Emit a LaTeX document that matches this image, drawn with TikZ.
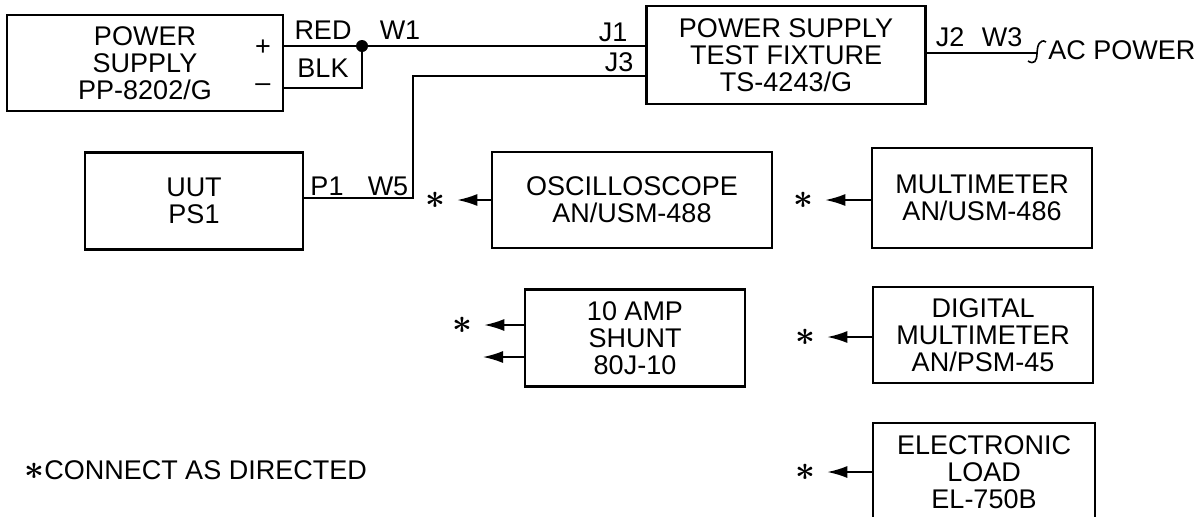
\documentclass[tikz,border=0pt]{standalone}
\usepackage{fontspec}
\setmainfont{Liberation Sans}
\usetikzlibrary{arrows.meta}

\newcommand{\bigast}{{\boldmath\fontsize{16}{16}\selectfont$\ast$}}

\begin{document}
\begin{tikzpicture}[x=0.5pt,y=-0.5pt,
  font=\fontsize{13.5}{13.5}\selectfont,
  box/.style={draw,line width=1.4pt,align=center,inner sep=0pt},
  wire/.style={line width=0.8pt},
  arr/.style={wire,-{Latex[length=10pt,width=6pt]}},
  lbl/.style={inner sep=0pt},
  starmark/.style={inner sep=6pt}]
  \useasboundingbox (0,0) rectangle (1202,516);

  % equipment
  \node[box,minimum width=138pt,minimum height=48pt] (psu) at (145,63)
    {POWER\\SUPPLY\\PP-8202/G};
  \node[box,minimum width=139.5pt,minimum height=49pt] (fix) at (786,55)
    {POWER SUPPLY\\TEST FIXTURE\\TS-4243/G};
  \node[box,minimum width=109pt,minimum height=48.5pt] (uut) at (194,201) {UUT\\PS1};
  \node[box,minimum width=140pt,minimum height=48pt] (osc) at (632,200)
    {OSCILLOSCOPE\\AN/USM-488};
  \node[box,minimum width=110pt,minimum height=50pt] (mm) at (982,198)
    {MULTIMETER\\AN/USM-486};
  \node[box,minimum width=110pt,minimum height=48.5pt] (shunt) at (635,338)
    {10 AMP\\SHUNT\\80J-10};
  \node[box,minimum width=110pt,minimum height=48pt] (dmm) at (983,335)
    {DIGITAL\\MULTIMETER\\AN/PSM-45};
  \node[box,minimum width=111pt,minimum height=49pt] (load) at (984,472)
    {ELECTRONIC\\LOAD\\EL-750B};

  \node[lbl] (plus) at (263,48) {+};
  \node[lbl] (minus) at (263,88) {--};

  % cabling
  \coordinate (dot) at (362,46);
  \coordinate (blk) at (362,88);
  \coordinate (j3) at (413,76);
  \coordinate (p1) at (413,198);
  \coordinate (ac) at (1037,53);
  \draw[wire] (psu.east |- dot) -- (dot) -- (fix.west |- dot);
  \draw[wire] (psu.east |- blk) -- (blk) -- (dot);
  \fill (dot) circle (3pt);
  \draw[wire] (fix.west |- j3) -- (j3) -- (p1) -- (uut.east |- p1);
  \draw[wire] (fix.east |- ac) -- (ac);
  \draw[wire] (1046,42) .. controls (1040,38) and (1037,46) .. (ac)
    .. controls (1037,61) and (1034,65) .. (1028,61);

  \node[lbl] (red) at (323,30) {RED};
  \node[lbl] (blklbl) at (323,68) {BLK};
  \node[lbl] (w1) at (400,30) {W1};
  \node[lbl] (j1) at (613,32) {J1};
  \node[lbl] (j3lbl) at (619,62) {J3};
  \node[lbl] (j2) at (950,37) {J2};
  \node[lbl] (w3) at (1002,37) {W3};
  \node[lbl,anchor=west] (acpower) at (1048,50) {AC POWER};
  \node[lbl] (p1lbl) at (327,186) {P1};
  \node[lbl] (w5) at (388,186) {W5};

  % connect as directed
  \foreach \n/\x/\y in {s1/435/200,s2/803/200,s3/462/325,s4/805/337,s5/805/472}
    \node[starmark] (\n) at (\x,\y) {\bigast};
  \coordinate (sh2) at (483,357);
  \foreach \b/\s in {osc/s1,mm/s2,shunt/s3,dmm/s4,load/s5}
    \draw[arr] (\b.west |- \s) -- (\s);
  \draw[arr] (shunt.west |- sh2) -- (sh2);

  \node[lbl,anchor=west] (note) at (24,470) {\bigast CONNECT AS DIRECTED};
\end{tikzpicture}
\end{document}
